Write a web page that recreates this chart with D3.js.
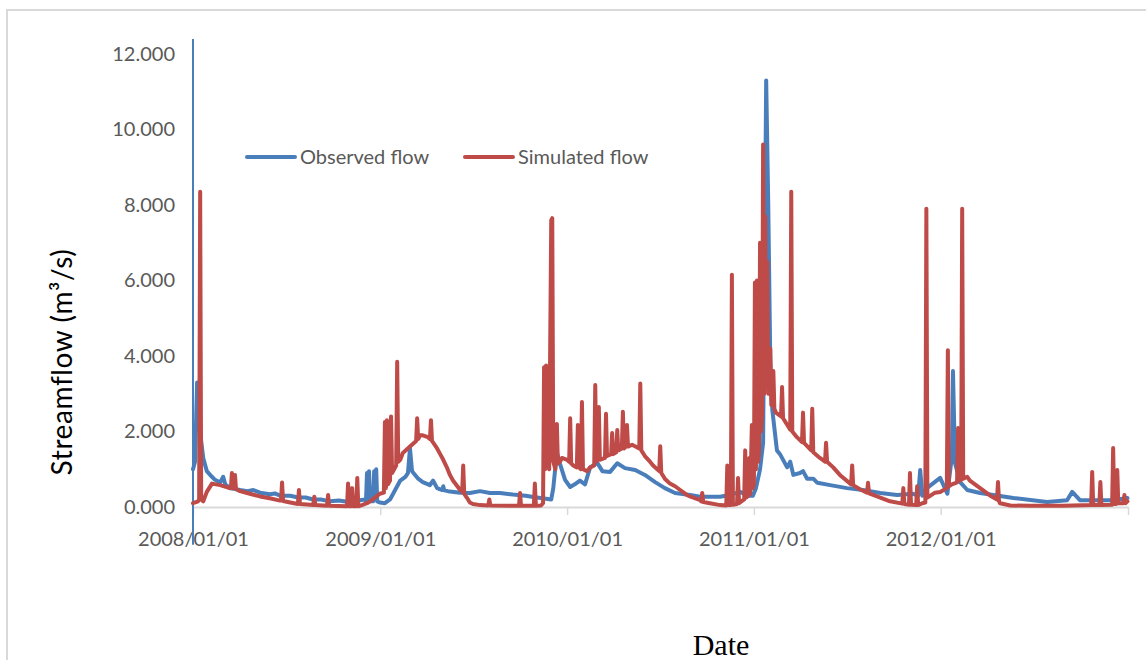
<!DOCTYPE html>
<html>
<head>
<meta charset="utf-8">
<script src="https://cdn.jsdelivr.net/npm/d3@7"></script>
<style>
    body { margin: 0; background: #fff; }
    .axis text { font-family: Lato, sans-serif; font-size: 20px; fill: #595959; }
    .legend text { font-family: Lato, sans-serif; font-size: 20px; fill: #595959; }
</style>
</head>
<body>
<div id="chart"></div>
<script>
// day offsets are counted from startDate, values in m3/s
const startDate = '2008-01-01';
const endDate = '2013-01-01';
const seriesNames = ['Observed flow', 'Simulated flow'];
const seriesColors = ['#4a7ebb', '#be4b48'];
const yTicks = [0, 2, 4, 6, 8, 10, 12];
const xTickDates = ['2008-01-01', '2009-01-01', '2010-01-01', '2011-01-01', '2012-01-01', '2013-01-01'];
const xTickLabels = ['2008/01/01', '2009/01/01', '2010/01/01', '2011/01/01', '2012/01/01', ''];

// first observed day jumps off the scale
const obsStartSpike = [12.4, -1.0];

const observedFlow = [
    [0, 1.00], [4, 1.2], [8, 3.3], [12, 2.2], [20, 1.3], [27, 0.95], [37, 0.8], [43, 0.72],
    [53, 0.65], [59, 0.8], [63, 0.6], [72, 0.5], [92, 0.45], [106, 0.42], [118, 0.45], [131, 0.38],
    [150, 0.34], [160, 0.36], [170, 0.3], [190, 0.3], [203, 0.26], [220, 0.25], [235, 0.2],
    [250, 0.2], [268, 0.15], [285, 0.17], [301, 0.14], [326, 0.18], [336, 0.2],
    [338, 0.15], [340, 0.9], [342, 0.2], [344, 0.95], [346, 0.15], [352, 0.15], [354, 0.95],
    [356, 0.2], [358, 1.0], [360, 0.15], [365, 0.12], [375, 0.1], [385, 0.2], [395, 0.45],
    [405, 0.7], [415, 0.8], [420, 0.9], [424, 1.55], [428, 0.95], [440, 0.75], [449, 0.66],
    [463, 0.58], [469, 0.7], [477, 0.5], [487, 0.45], [489, 0.55], [491, 0.44], [498, 0.42],
    [522, 0.38], [541, 0.37], [561, 0.42], [580, 0.37], [600, 0.37], [625, 0.33], [650, 0.3],
    [668, 0.26], [690, 0.22], [700, 0.2], [704, 0.5], [711, 1.45], [717, 1.15], [727, 0.72],
    [737, 0.53], [746, 0.6], [756, 0.7], [766, 0.6], [776, 1.05], [790, 1.17], [800, 0.95],
    [815, 0.93], [829, 1.16], [844, 1.03], [864, 0.98], [883, 0.85], [903, 0.66], [922, 0.5],
    [942, 0.37], [971, 0.32], [991, 0.27], [1030, 0.27], [1049, 0.32], [1069, 0.4], [1085, 0.3],
    [1094, 0.3], [1100, 0.5], [1108, 1.0], [1114, 1.7], [1120, 11.3], [1124, 8.05], [1128, 3.9],
    [1132, 2.57], [1141, 1.5], [1147, 1.4], [1161, 1.05], [1167, 1.2], [1173, 0.85], [1186, 0.9],
    [1192, 0.95], [1200, 0.75], [1212, 0.75], [1220, 0.64], [1245, 0.58], [1278, 0.5],
    [1309, 0.45], [1343, 0.37], [1376, 0.32], [1407, 0.35], [1417, 0.3], [1421, 0.98],
    [1425, 0.3], [1434, 0.5], [1460, 0.77], [1474, 0.35], [1483, 1.35], [1485, 3.6], [1489, 1.16],
    [1499, 0.66], [1513, 0.45], [1538, 0.37], [1603, 0.24], [1669, 0.13], [1708, 0.18],
    [1718, 0.4], [1733, 0.18], [1798, 0.18], [1826, 0.24]
];

const simulatedFlow = [
    [0, 0.1], [10, 0.15], [12, 0.2], [14, 8.35], [16, 0.2], [20, 0.15], [27, 0.4], [37, 0.62],
    [53, 0.58], [72, 0.5], [74, 0.5], [76, 0.9], [78, 0.5], [82, 0.85], [84, 0.48], [92, 0.42],
    [111, 0.35], [131, 0.28], [150, 0.23], [170, 0.17], [172, 0.17], [174, 0.65], [176, 0.16],
    [190, 0.12], [205, 0.08], [207, 0.45], [209, 0.08], [235, 0.05], [237, 0.27], [239, 0.05],
    [262, 0.03], [264, 0.32], [266, 0.03], [301, 0.02], [303, 0.62], [305, 0.02], [309, 0.02],
    [311, 0.5], [313, 0.02], [319, 0.02], [321, 0.77], [323, 0.02], [330, 0.05], [340, 0.1],
    [346, 0.15], [365, 0.35], [373, 0.38], [375, 2.25], [377, 0.5], [379, 2.3], [381, 0.6],
    [385, 0.7], [387, 2.4], [389, 0.9], [397, 1.1], [399, 3.85], [401, 1.2], [405, 1.25],
    [410, 1.43], [424, 1.6], [436, 1.75], [438, 2.35], [440, 1.8], [444, 1.9], [449, 1.9],
    [459, 1.85], [463, 1.8], [465, 2.3], [467, 1.75], [477, 1.55], [483, 1.4], [489, 1.25],
    [496, 1.05], [502, 0.85], [508, 0.7], [522, 0.45], [526, 0.4], [528, 1.1], [530, 0.35],
    [535, 0.25], [541, 0.12], [547, 0.08], [561, 0.05], [577, 0.04], [579, 0.2], [581, 0.04],
    [637, 0.03], [639, 0.37], [641, 0.03], [666, 0.03], [668, 0.62], [670, 0.03], [680, 0.04],
    [684, 0.1], [686, 3.7], [688, 1.0], [690, 3.75], [692, 1.2], [696, 1.0], [700, 7.6],
    [702, 7.65], [704, 1.2], [708, 1.0], [711, 2.2], [713, 1.15], [717, 1.2], [721, 1.3],
    [731, 1.25], [735, 1.2], [737, 2.35], [739, 1.15], [743, 1.1], [750, 1.05], [752, 2.17],
    [754, 1.05], [758, 1.0], [760, 2.78], [762, 1.0], [770, 0.95], [776, 1.05], [784, 1.1],
    [786, 3.23], [788, 1.2], [791, 1.25], [793, 2.65], [795, 1.25], [805, 1.3], [807, 2.47],
    [809, 1.35], [817, 1.4], [819, 1.96], [821, 1.4], [827, 1.45], [829, 2.04], [831, 1.5],
    [838, 1.55], [840, 2.52], [842, 1.55], [846, 1.6], [848, 2.17], [850, 1.6], [858, 1.65],
    [872, 1.55], [874, 3.27], [876, 1.5], [883, 1.35], [893, 1.2], [899, 1.1], [911, 0.95],
    [913, 1.61], [915, 0.9], [922, 0.75], [932, 0.62], [942, 0.55], [952, 0.45], [965, 0.32],
    [971, 0.28], [991, 0.18], [993, 0.15], [995, 0.37], [997, 0.13], [1010, 0.1], [1030, 0.05],
    [1042, 0.04], [1044, 1.1], [1046, 0.05], [1051, 0.05], [1053, 6.15], [1055, 0.06],
    [1063, 0.08], [1065, 0.77], [1067, 0.1], [1077, 0.2], [1079, 1.5], [1081, 0.25], [1085, 0.3],
    [1087, 1.3], [1089, 0.35], [1092, 2.17], [1094, 0.5], [1096, 0.6], [1098, 5.95], [1100, 1.0],
    [1102, 6.0], [1104, 1.2], [1106, 1.5], [1108, 7.0], [1110, 2.0], [1112, 2.5], [1114, 9.6],
    [1116, 3.0], [1118, 7.7], [1120, 3.5], [1122, 6.5], [1124, 3.0], [1128, 4.2], [1130, 2.7],
    [1132, 2.75], [1134, 3.6], [1136, 2.6], [1139, 2.5], [1149, 2.4], [1151, 3.18], [1153, 2.35],
    [1167, 2.05], [1169, 8.35], [1171, 2.0], [1180, 1.85], [1190, 1.72], [1192, 2.5], [1194, 1.7],
    [1208, 1.5], [1210, 2.6], [1212, 1.45], [1225, 1.3], [1235, 1.2], [1237, 1.7], [1239, 1.2],
    [1251, 1.05], [1264, 0.85], [1286, 0.6], [1288, 1.1], [1290, 0.58], [1303, 0.47],
    [1317, 0.38], [1319, 0.64], [1321, 0.36], [1343, 0.25], [1362, 0.15], [1386, 0.09],
    [1388, 0.5], [1390, 0.08], [1399, 0.06], [1401, 0.9], [1403, 0.06], [1413, 0.05],
    [1415, 0.55], [1417, 0.05], [1425, 0.1], [1431, 0.12], [1433, 7.9], [1435, 0.25],
    [1450, 0.38], [1460, 0.4], [1473, 0.5], [1475, 4.15], [1477, 0.55], [1483, 0.6],
    [1493, 0.65], [1495, 2.09], [1497, 0.7], [1501, 0.72], [1503, 7.9], [1505, 0.75],
    [1513, 0.8], [1518, 0.7], [1538, 0.5], [1558, 0.3], [1571, 0.2], [1573, 0.66], [1575, 0.15],
    [1577, 0.1], [1597, 0.04], [1636, 0.03], [1700, 0.03], [1755, 0.05], [1757, 0.93],
    [1759, 0.05], [1771, 0.05], [1773, 0.66], [1775, 0.05], [1796, 0.06], [1798, 1.56],
    [1800, 0.08], [1804, 0.08], [1806, 0.98], [1808, 0.1], [1818, 0.1], [1820, 0.32],
    [1822, 0.1], [1826, 0.15]
];

class FlowChart {

    constructor(_config) {
        this.config = {
            parentElement: _config.parentElement,
            containerWidth: _config.containerWidth || 1146,
            containerHeight: _config.containerHeight || 660,
            margin: _config.margin || { top: 54, right: 18, bottom: 153, left: 193 }
        };
        this.initVis();
    }

    initVis() {
        let vis = this;

        vis.width = vis.config.containerWidth - vis.config.margin.left - vis.config.margin.right;
        vis.height = vis.config.containerHeight - vis.config.margin.top - vis.config.margin.bottom;

        vis.svg = d3.select(vis.config.parentElement)
            .append('svg')
            .attr('width', vis.config.containerWidth)
            .attr('height', vis.config.containerHeight);

        // chart area border (runs off the right and bottom edge)
        vis.svg.append('rect')
            .attr('x', 7)
            .attr('y', 10)
            .attr('width', 1160)
            .attr('height', 700)
            .attr('fill', 'none')
            .attr('stroke', '#d9d9d9')
            .attr('stroke-width', 2);

        vis.chart = vis.svg.append('g')
            .attr('transform', `translate(${vis.config.margin.left},${vis.config.margin.top})`);

        vis.parseDate = d3.timeParse('%Y-%m-%d');
        vis.start = vis.parseDate(startDate);

        vis.xScale = d3.scaleTime()
            .domain([vis.start, vis.parseDate(endDate)])
            .range([0, vis.width]);

        vis.yScale = d3.scaleLinear()
            .domain([0, 12])
            .range([vis.height, 0]);

        vis.xAxis = d3.axisBottom(vis.xScale)
            .tickValues(xTickDates.map(vis.parseDate))
            .tickFormat((d, i) => xTickLabels[i])
            .tickSize(8)
            .tickPadding(17)
            .tickSizeOuter(0);

        vis.yAxis = d3.axisLeft(vis.yScale)
            .tickValues(yTicks)
            .tickFormat(d3.format('.3f'))
            .tickSize(0)
            .tickPadding(18);

        vis.yAxisG = vis.chart.append('g')
            .attr('class', 'axis y-axis');

        vis.xAxisG = vis.chart.append('g')
            .attr('class', 'axis x-axis')
            .attr('transform', `translate(0,${vis.height})`);

        vis.svg.append('text')
            .attr('class', 'axis-title')
            .attr('transform', 'translate(72,362) rotate(-90)')
            .attr('text-anchor', 'middle')
            .style('font-family', 'Lato, sans-serif')
            .style('font-size', '28px')
            .style('letter-spacing', '0.6px')
            .style('fill', '#000')
            .text('Streamflow (m³/s)');

        vis.svg.append('text')
            .attr('class', 'axis-title')
            .attr('x', 721)
            .attr('y', 655)
            .attr('text-anchor', 'middle')
            .style('font-family', '"Liberation Serif", serif')
            .style('font-size', '30px')
            .style('fill', '#000')
            .text('Date');

        vis.legend = vis.svg.append('g')
            .attr('class', 'legend');
    }

    updateVis() {
        let vis = this;

        let toPoints = arr => arr.map(d => ({ date: d3.timeDay.offset(vis.start, d[0]), value: d[1] }));
        vis.series = [
            { name: seriesNames[0], color: seriesColors[0], values: toPoints(observedFlow) },
            { name: seriesNames[1], color: seriesColors[1], values: toPoints(simulatedFlow) }
        ];

        vis.line = d3.line()
            .x(d => vis.xScale(d.date))
            .y(d => vis.yScale(d.value));

        vis.renderVis();
    }

    renderVis() {
        let vis = this;

        vis.yAxisG.call(vis.yAxis)
            .call(g => g.select('.domain').remove());

        vis.xAxisG.call(vis.xAxis);
        vis.xAxisG.select('.domain')
            .attr('stroke', '#d9d9d9')
            .attr('stroke-width', 2);
        vis.xAxisG.selectAll('.tick line')
            .attr('stroke', '#d9d9d9')
            .attr('stroke-width', 1.5);

        // thin jump of the first observed day
        vis.chart.append('line')
            .attr('x1', vis.xScale(vis.start))
            .attr('x2', vis.xScale(vis.start))
            .attr('y1', vis.yScale(obsStartSpike[0]))
            .attr('y2', vis.yScale(obsStartSpike[1]))
            .attr('stroke', seriesColors[0])
            .attr('stroke-width', 2);

        vis.chart.selectAll('.flow-line')
            .data(vis.series)
            .enter().append('path')
            .attr('class', 'flow-line')
            .attr('fill', 'none')
            .attr('stroke', d => d.color)
            .attr('stroke-width', 4)
            .attr('stroke-linejoin', 'round')
            .attr('stroke-linecap', 'round')
            .attr('d', d => vis.line(d.values));

        let legendX = [247, 465];
        let items = vis.legend.selectAll('g')
            .data(vis.series)
            .enter().append('g')
            .attr('transform', (d, i) => `translate(${legendX[i]},157)`);

        items.append('line')
            .attr('x1', 0)
            .attr('x2', 48)
            .attr('stroke', d => d.color)
            .attr('stroke-width', 4)
            .attr('stroke-linecap', 'round');

        items.append('text')
            .attr('x', 53)
            .attr('dy', '0.35em')
            .text(d => d.name);
    }
}

const chart = new FlowChart({ parentElement: '#chart' });
chart.updateVis();
</script>
</body>
</html>
